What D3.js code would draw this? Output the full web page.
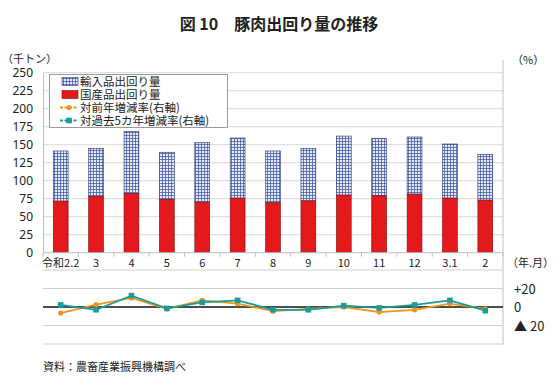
<!DOCTYPE html>
<html>
<head>
<meta charset="utf-8">
<script src="https://cdnjs.cloudflare.com/ajax/libs/d3/7.8.5/d3.min.js"></script>
<style>
  body { margin: 0; background: #fff; }
  text { font-family: "Noto Sans CJK JP", "Noto Sans", sans-serif; fill: #222; }
</style>
</head>
<body>
<div id="chart"></div>
<script>
(function () {

    // categories (年.月)
    var months = ["令和2.2", "3", "4", "5", "6", "7", "8", "9", "10", "11", "12", "3.1", "2"];

    // 国産品出回り量 (千トン)
    var domestic = [71.6, 78, 82.3, 73.8, 70.2, 75.8, 69.3, 72, 80, 79, 81.3, 75.8, 73];
    // 輸入品出回り量 (千トン)
    var imported = [69.7, 67, 86.3, 65.7, 82.7, 83.5, 72, 73, 82, 79.9, 79.4, 75.2, 63.7];

    // 対前年増減率 / 対過去5カ年増減率 (%)
    var yoy = [-6.6, 2.5, 9.8, -2, 7.2, 3.6, -4.5, -2, 0, -5.5, -3, 3.6, -2];
    var vs5y = [2.2, -3, 12.3, -1.5, 5, 7.2, -3, -3, 1.4, -1, 2.2, 7.2, -4];

    var leftTicks = [0, 25, 50, 75, 100, 125, 150, 175, 200, 225, 250];
    var rightTicks = [{ v: 20, t: "+20" }, { v: 0, t: "0" }, { v: -20, t: "▲ 20" }];
    var bottomGrid = [40, 20, -20, -40];

    var W = 558, H = 379;
    var left = 43, right = 503;

    var svg = d3.select("#chart").append("svg")
        .attr("width", W)
        .attr("height", H);

    // hatch pattern for imports
    var defs = svg.append("defs");
    var pat = defs.append("pattern")
        .attr("id", "grid")
        .attr("width", 3)
        .attr("height", 3)
        .attr("patternUnits", "userSpaceOnUse");
    pat.append("rect").attr("width", 3).attr("height", 3).attr("fill", "#e4eaf8");
    pat.append("path")
        .attr("d", "M0,0.4H3M0.4,0V3")
        .attr("stroke", "#3a4fa0")
        .attr("stroke-width", 0.8);

    // title
    svg.append("text")
        .attr("x", 279).attr("y", 30)
        .attr("text-anchor", "middle")
        .style("font-size", "16px")
        .style("font-weight", "bold")
        .text("図 10　豚肉出回り量の推移");

    svg.append("text").attr("x", 2).attr("y", 63).style("font-size", "11px").text("（千トン）");
    svg.append("text").attr("x", 512).attr("y", 64).style("font-size", "11px").text("（%）");

    // scales
    var x = d3.scaleBand()
        .domain(months)
        .range([left, right])
        .paddingInner(0.58)
        .paddingOuter(0.29);

    var y = d3.scaleLinear().domain([0, 250]).range([252.7, 72.7]);
    var y2 = d3.scaleLinear().domain([-40, 40]).range([344, 270]);

    // gridlines top
    svg.append("g").selectAll("line")
        .data(leftTicks.filter(function (d) { return d > 0; }))
        .enter().append("line")
        .attr("x1", left).attr("x2", right)
        .attr("y1", function (d) { return y(d); })
        .attr("y2", function (d) { return y(d); })
        .attr("stroke", "#d9d9d9");

    // left axis
    var yAxis = svg.append("g")
        .attr("transform", "translate(" + left + ",0)")
        .call(d3.axisLeft(y).tickValues(leftTicks).tickSize(0).tickPadding(10));
    yAxis.select(".domain").attr("stroke", "#bfbfbf");
    yAxis.selectAll("text").style("font-size", "12px").style("font-family", "'Noto Sans', sans-serif").attr("fill", "#222");

    // bars
    var stack = months.map(function (m, i) { return { m: m, dom: domestic[i], imp: imported[i] }; });
    var bw = x.bandwidth();

    svg.append("g").selectAll("rect")
        .data(stack)
        .enter().append("rect")
        .attr("x", function (d) { return x(d.m); })
        .attr("y", function (d) { return y(d.dom + d.imp); })
        .attr("width", bw)
        .attr("height", function (d) { return y(d.dom) - y(d.dom + d.imp); })
        .attr("fill", "url(#grid)")
        .attr("stroke", "#2a3570")
        .attr("stroke-width", 0.6);

    svg.append("g").selectAll("rect")
        .data(stack)
        .enter().append("rect")
        .attr("x", function (d) { return x(d.m); })
        .attr("y", function (d) { return y(d.dom); })
        .attr("width", bw)
        .attr("height", function (d) { return y(0) - y(d.dom); })
        .attr("fill", "#e3191c")
        .attr("stroke", "#7a1010")
        .attr("stroke-width", 0.6);

    // x axis
    var step = x.step();
    var xAxis = svg.append("g").attr("transform", "translate(0," + y(0) + ")");
    xAxis.append("line").attr("x1", left).attr("x2", right).attr("stroke", "#bfbfbf");
    xAxis.selectAll(".tk")
        .data(d3.range(months.length + 1))
        .enter().append("line")
        .attr("x1", function (i) { return left + i * step; })
        .attr("x2", function (i) { return left + i * step; })
        .attr("y1", 0).attr("y2", 4)
        .attr("stroke", "#bfbfbf");
    xAxis.selectAll(".lbl")
        .data(months)
        .enter().append("text")
        .attr("x", function (d) { return x(d) + bw / 2; })
        .attr("y", 14)
        .attr("text-anchor", "middle")
        .style("font-size", "11px")
        .text(function (d) { return d; });
    svg.append("text").attr("x", 507).attr("y", 267).style("font-size", "11px").text("（年.月）");

    // right vertical line
    svg.append("line")
        .attr("x1", right).attr("x2", right)
        .attr("y1", 60).attr("y2", 345)
        .attr("stroke", "#bfbfbf");

    // bottom panel grid
    svg.append("g").selectAll("line")
        .data(bottomGrid)
        .enter().append("line")
        .attr("x1", left).attr("x2", right)
        .attr("y1", function (d) { return y2(d); })
        .attr("y2", function (d) { return y2(d); })
        .attr("stroke", "#d0d0d0");

    svg.append("line")
        .attr("x1", left).attr("x2", right)
        .attr("y1", y2(0)).attr("y2", y2(0))
        .attr("stroke", "#111")
        .attr("stroke-width", 1.6);

    svg.append("g").selectAll("text")
        .data(rightTicks)
        .enter().append("text")
        .attr("x", 514)
        .attr("y", function (d) { return y2(d.v) + 5; })
        .style("font-size", "13px")
        .text(function (d) { return d.t; });

    // lines
    var cx = function (i) { return x(months[i]) + bw / 2; };
    var line = d3.line()
        .x(function (d, i) { return cx(i); })
        .y(function (d) { return y2(d); });

    svg.append("path").datum(yoy)
        .attr("d", line).attr("fill", "none")
        .attr("stroke", "#f0951c").attr("stroke-width", 1.8);
    svg.append("path").datum(vs5y)
        .attr("d", line).attr("fill", "none")
        .attr("stroke", "#1a9c98").attr("stroke-width", 1.8);

    svg.append("g").selectAll("circle")
        .data(yoy)
        .enter().append("circle")
        .attr("cx", function (d, i) { return cx(i); })
        .attr("cy", function (d) { return y2(d); })
        .attr("r", 2.6)
        .attr("fill", "#f0951c");
    svg.append("g").selectAll("rect")
        .data(vs5y)
        .enter().append("rect")
        .attr("x", function (d, i) { return cx(i) - 2.8; })
        .attr("y", function (d) { return y2(d) - 2.8; })
        .attr("width", 5.6).attr("height", 5.6)
        .attr("fill", "#1a9c98");

    // legend
    var lg = svg.append("g");
    lg.append("rect")
        .attr("x", 49.5).attr("y", 74.5)
        .attr("width", 178).attr("height", 53)
        .attr("fill", "#fff")
        .attr("stroke", "#999");

    var items = [
        { t: "輸入品出回り量", k: "imp" },
        { t: "国産品出回り量", k: "dom" },
        { t: "対前年増減率(右軸)", k: "yoy" },
        { t: "対過去5カ年増減率(右軸)", k: "5y" }
    ];
    items.forEach(function (it, i) {
        var cy = 81.5 + i * 13;
        if (it.k === "imp") {
            lg.append("rect").attr("x", 62).attr("y", cy - 4).attr("width", 16).attr("height", 8)
                .attr("fill", "url(#grid)").attr("stroke", "#2a3570").attr("stroke-width", 0.6);
        } else if (it.k === "dom") {
            lg.append("rect").attr("x", 62).attr("y", cy - 4).attr("width", 16).attr("height", 8)
                .attr("fill", "#e3191c").attr("stroke", "#7a1010").attr("stroke-width", 0.6);
        } else {
            var col = it.k === "yoy" ? "#f0951c" : "#1a9c98";
            lg.append("line").attr("x1", 60).attr("x2", 78).attr("y1", cy).attr("y2", cy)
                .attr("stroke", col).attr("stroke-width", 1.8).attr("stroke-dasharray", "3,1.5");
            if (it.k === "yoy") {
                lg.append("circle").attr("cx", 69).attr("cy", cy).attr("r", 2.6).attr("fill", col);
            } else {
                lg.append("rect").attr("x", 66.2).attr("y", cy - 2.8).attr("width", 5.6).attr("height", 5.6).attr("fill", col);
            }
        }
        lg.append("text").attr("x", 80).attr("y", cy + 4).style("font-size", "11.5px").text(it.t);
    });

    // source
    svg.append("text").attr("x", 43).attr("y", 371).style("font-size", "11px").text("資料：農畜産業振興機構調べ");

})();
</script>
</body>
</html>
